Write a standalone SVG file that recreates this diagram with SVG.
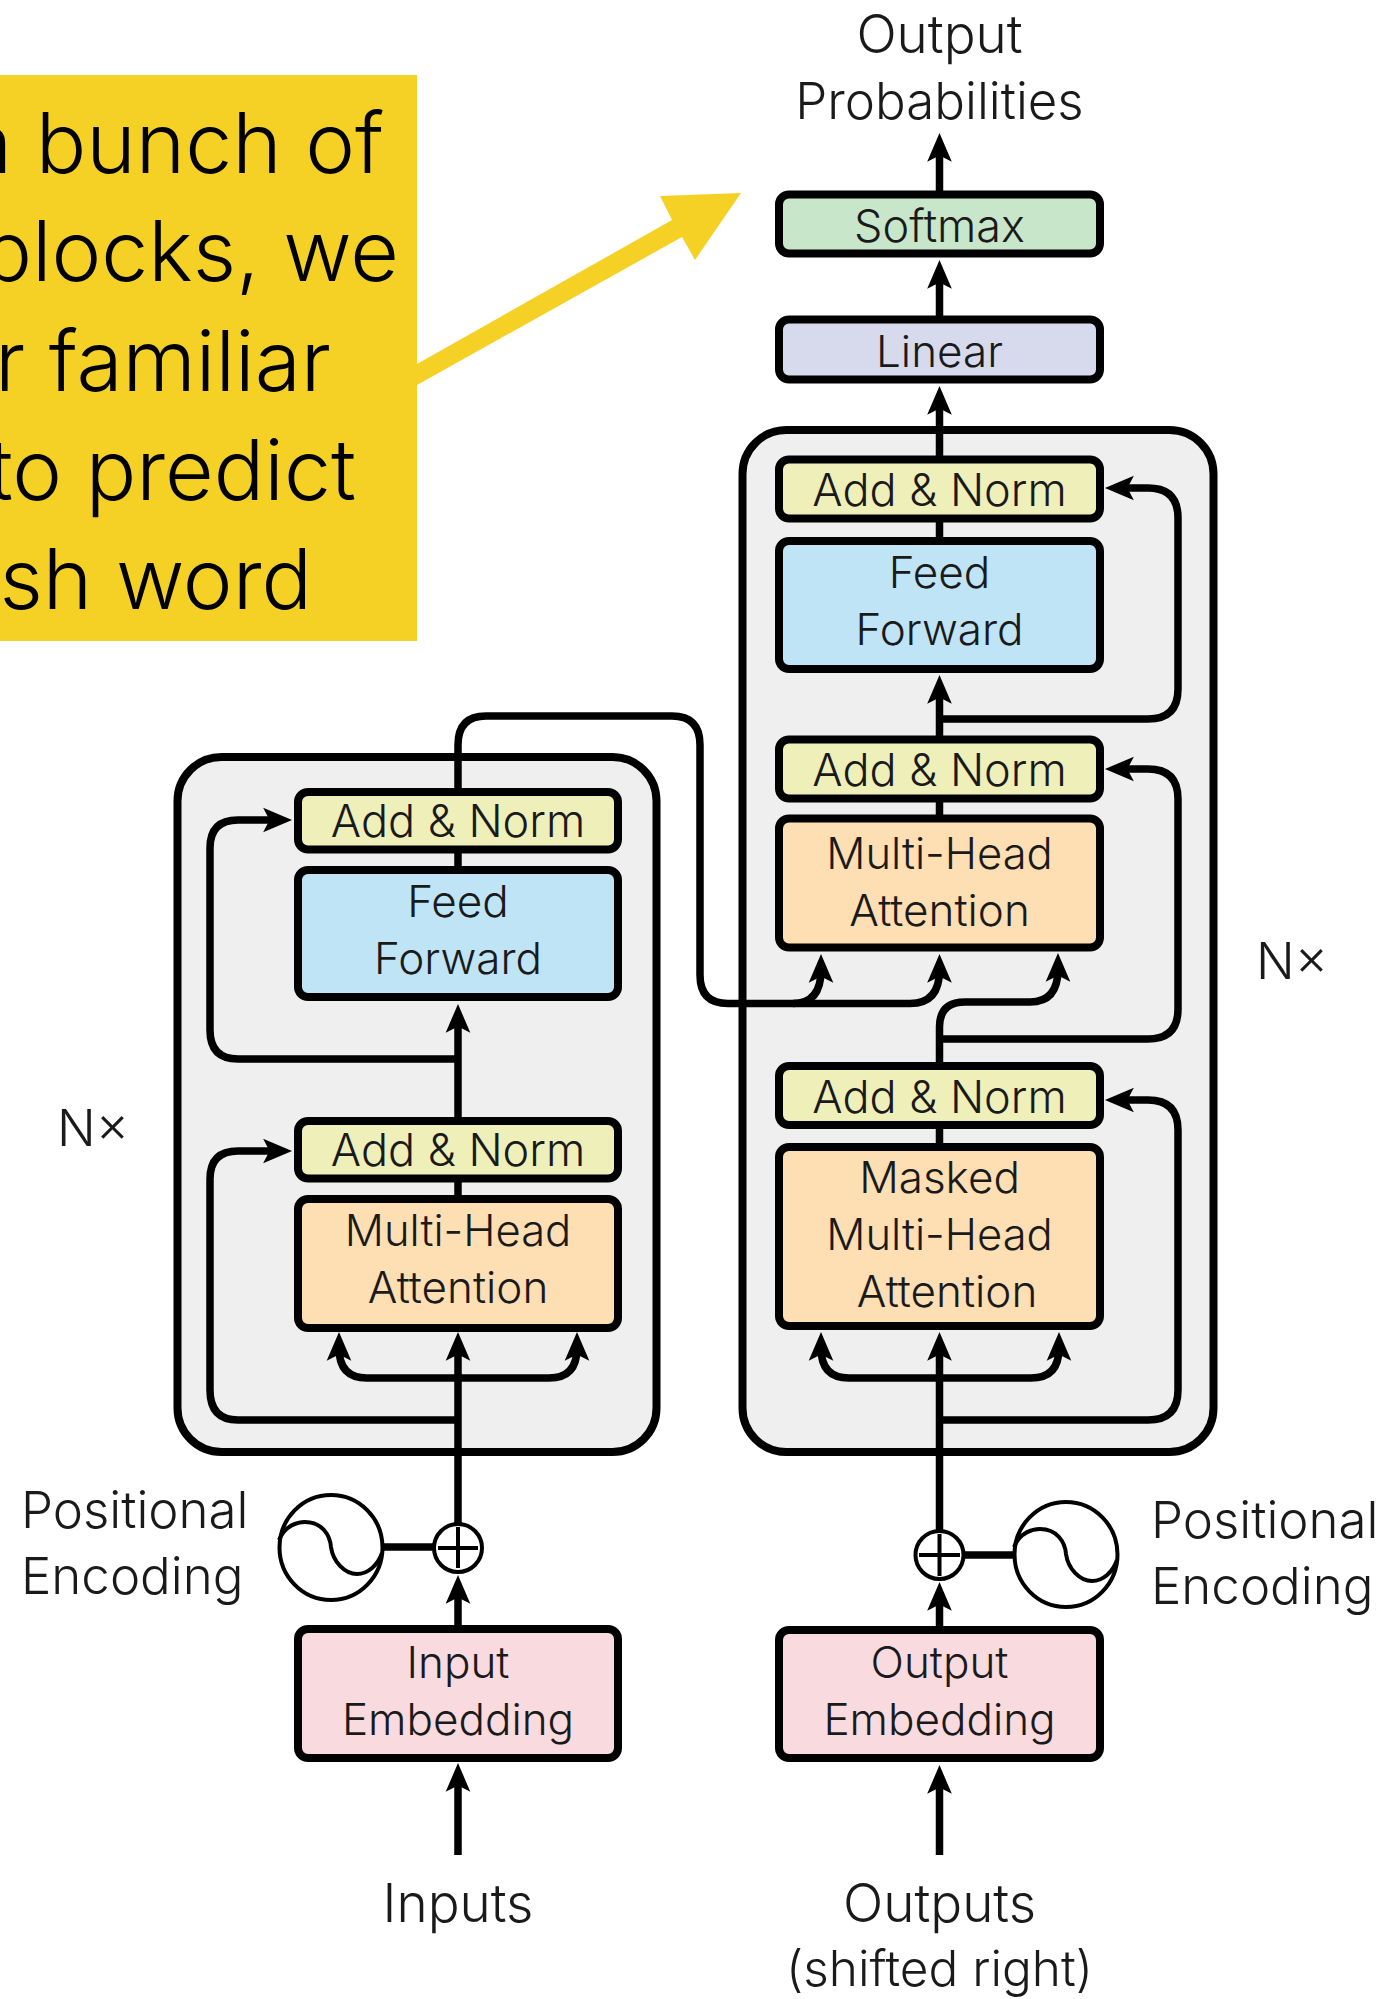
<svg xmlns="http://www.w3.org/2000/svg" xmlns:xlink="http://www.w3.org/1999/xlink" width="1383" height="1999" viewBox="0 0 1383 1999">
<style>
text{font-family:"Inter","Liberation Sans",Arial,sans-serif;font-weight:300;fill:#1a1a1a;font-size:44px;text-anchor:middle}
.out{font-size:51px}
.big{font-size:53px}
.wide{font-size:45px}
.mh{font-size:43.500px}
.call{font-size:84px;fill:#000;text-anchor:end}
.l{text-anchor:start}
.box{stroke:#000;stroke-width:8;stroke-linejoin:round}
.cont{fill:#efefef;stroke:#000;stroke-width:8}
.an{fill:#efefba}.ff{fill:#bee4f6}.at{fill:#fddfb3}.em{fill:#f9dadf}.sm{fill:#c8e6ca}.li{fill:#d6daec}
.c{fill:none;stroke:#000;stroke-width:7.500}
.a{marker-end:url(#ah)}
.thin{fill:none;stroke:#000;stroke-width:4}
</style>
<defs>
<marker id="ah" markerUnits="userSpaceOnUse" markerWidth="30" markerHeight="30" viewBox="0 0 28 28" refX="12" refY="14" orient="auto"><path d="M0 2.500L27 14L0 25.500L6 14Z" fill="#000"/></marker>
<g id="wave"><ellipse cx="331" cy="1547.500" rx="51.500" ry="52.500" class="thin" fill="#fff"/><path class="thin" d="M279 1540C285 1525 298 1522 305 1522C322 1522 330 1535 331 1547C333 1562 345 1574 357 1574C368 1574 378 1565 382 1553"/></g>
</defs>
<rect id="background" width="1383" height="1999" fill="#fff"/>
<g id="encoder-stack"><rect class="cont" x="177.500" y="757" width="479" height="695" rx="44"/></g>
<g id="decoder-stack"><rect class="cont" x="742.500" y="430" width="471" height="1022" rx="44"/></g>
<g id="connectors">
<path class="c a" d="M939.500 195V149"/>
<path class="c a" d="M939.500 319V276"/>
<path class="c a" d="M939.500 459V402"/>
<path class="c" d="M939.500 518V541"/>
<path class="c a" d="M939.500 739V691"/>
<path class="c" d="M939.500 798V818"/>
<path class="c a" d="M939.500 719H1148Q1178 719 1178 689V518Q1178 488 1148 488H1121"/>
<path class="c a" d="M939.500 1039H1148Q1178 1039 1178 1009V799Q1178 769 1148 769H1121"/>
<path class="c a" d="M939.500 1067V1027Q939.500 1002 965 1002H1030Q1058 1002 1058 969"/>
<path class="c" d="M458 792V745Q458 716 486 716H672Q700 716 700 745V975Q700 1003.500 728 1003.500H910"/>
<path class="c a" d="M910 1003.500Q939.500 1003.500 939.500 970"/>
<path class="c a" d="M793 1003.500Q821 1003.500 821 970"/>
<path class="c" d="M939.500 1126V1148"/>
<path class="c a" d="M939.500 1531V1348"/>
<path class="c a" d="M849 1378Q821 1378 821 1348"/>
<path class="c a" d="M1031 1378Q1059 1378 1059 1348"/>
<path class="c" d="M849 1378H1031"/>
<path class="c a" d="M939.500 1420H1148Q1178 1420 1178 1390V1130Q1178 1100 1148 1100H1121"/>
<path class="c a" d="M939.500 1631V1598"/>
<path class="c a" d="M939.500 1855V1781"/>
<path class="c" d="M1014 1555H965"/>
<path class="c" d="M458 849.500V870"/>
<path class="c a" d="M458 1121V1020"/>
<path class="c a" d="M458 1059H238Q210 1059 210 1030V848Q210 820 238 820H276"/>
<path class="c a" d="M458 1420H238Q210 1420 210 1390V1179Q210 1151 238 1151H276"/>
<path class="c" d="M458 1178.500V1199.500"/>
<path class="c a" d="M458 1523V1348"/>
<path class="c a" d="M367 1378Q339 1378 339 1348"/>
<path class="c a" d="M549 1378Q577 1378 577 1348"/>
<path class="c" d="M367 1378H549"/>
<path class="c a" d="M458 1629V1591"/>
<path class="c a" d="M458 1855V1779"/>
<path class="c" d="M384 1547H433"/>
<polygon id="callout-arrow" fill="#f6d125" points="417,364 672,220 660,196 741,193 695,260 682,237 417,385"/>
</g>
<g id="callout"><rect x="0" y="75" width="417" height="566" fill="#f6d125"/>
<text class="call" x="384" y="173">a bunch of</text>
<text class="call" x="399" y="281">blocks, we</text>
<text class="call" x="331" y="391">r familiar</text>
<text class="call" x="356" y="500">to predict</text>
<text class="call" x="312" y="609">sh word</text></g>
<g id="output-probabilities"><text class="big" x="939.500" y="53">Output</text><text class="out" x="939.500" y="119">Probabilities</text></g>
<g id="softmax"><rect class="box sm" x="779" y="194.500" width="321" height="59" rx="10"/><text class="wide" x="939.500" y="242">Softmax</text></g>
<g id="linear"><rect class="box li" x="779" y="319.500" width="321" height="60" rx="10"/><text x="939.500" y="367">Linear</text></g>
<g id="dec-addnorm-3"><rect class="box an" x="779" y="459.500" width="321" height="59" rx="10"/><text class="wide" x="939.500" y="506">Add &amp; Norm</text></g>
<g id="dec-feed-forward"><rect class="box ff" x="779" y="541" width="321" height="128" rx="10"/><text x="939.500" y="588">Feed</text><text x="939.500" y="645">Forward</text></g>
<g id="dec-addnorm-2"><rect class="box an" x="779" y="739.500" width="321" height="59" rx="10"/><text class="wide" x="939.500" y="786">Add &amp; Norm</text></g>
<g id="dec-attention"><rect class="box at" x="779" y="818.500" width="321" height="129" rx="10"/><text class="mh" x="939.500" y="869">Multi-Head</text><text x="939.500" y="926">Attention</text></g>
<g id="dec-addnorm-1"><rect class="box an" x="779" y="1066" width="321" height="59" rx="10"/><text class="wide" x="939.500" y="1113">Add &amp; Norm</text></g>
<g id="dec-masked-attention"><rect class="box at" x="779" y="1147" width="321" height="179" rx="10"/><text x="939.500" y="1193">Masked</text><text class="mh" x="939.500" y="1250">Multi-Head</text><text x="947" y="1307">Attention</text></g>
<g id="dec-nx"><text class="out" x="1292" y="979">N×</text></g>
<g id="dec-add"><circle cx="939.500" cy="1555" r="24" class="thin" fill="#fff"/><path class="thin" d="M919 1555H960M939.500 1534V1576"/></g>
<g id="dec-wave"><use href="#wave" xlink:href="#wave" transform="translate(735 7)"/></g>
<g id="dec-positional"><text class="l out" x="1151" y="1538">Positional</text><text class="l out" x="1151" y="1604">Encoding</text></g>
<g id="output-embedding"><rect class="box em" x="779" y="1630" width="321" height="128" rx="10"/><text x="939.500" y="1678">Output</text><text x="939.500" y="1735">Embedding</text></g>
<g id="outputs"><text class="big" x="939.500" y="1922">Outputs</text><text class="out" x="939.500" y="1986" style="font-size:49.500px">(shifted right)</text></g>
<g id="enc-addnorm-2"><rect class="box an" x="298" y="792" width="320" height="57.500" rx="10"/><text class="wide" x="458" y="837">Add &amp; Norm</text></g>
<g id="enc-feed-forward"><rect class="box ff" x="298" y="870" width="320" height="127" rx="10"/><text x="458" y="917">Feed</text><text x="458" y="974">Forward</text></g>
<g id="enc-addnorm-1"><rect class="box an" x="298" y="1121" width="320" height="57.500" rx="10"/><text class="wide" x="458" y="1166">Add &amp; Norm</text></g>
<g id="enc-attention"><rect class="box at" x="298" y="1199" width="320" height="129" rx="10"/><text class="mh" x="458" y="1246">Multi-Head</text><text x="458" y="1303">Attention</text></g>
<g id="enc-nx"><text class="out" x="93" y="1146">N×</text></g>
<g id="enc-add"><circle cx="458" cy="1548" r="24" class="thin" fill="#fff"/><path class="thin" d="M438 1548H478M458 1527V1568"/></g>
<g id="enc-wave"><use href="#wave" xlink:href="#wave"/></g>
<g id="enc-positional"><text class="l out" x="21" y="1528">Positional</text><text class="l out" x="21" y="1594">Encoding</text></g>
<g id="input-embedding"><rect class="box em" x="298" y="1629" width="320" height="129" rx="10"/><text x="458" y="1678">Input</text><text x="458" y="1735">Embedding</text></g>
<g id="inputs"><text class="big" x="458" y="1922">Inputs</text></g>
</svg>
